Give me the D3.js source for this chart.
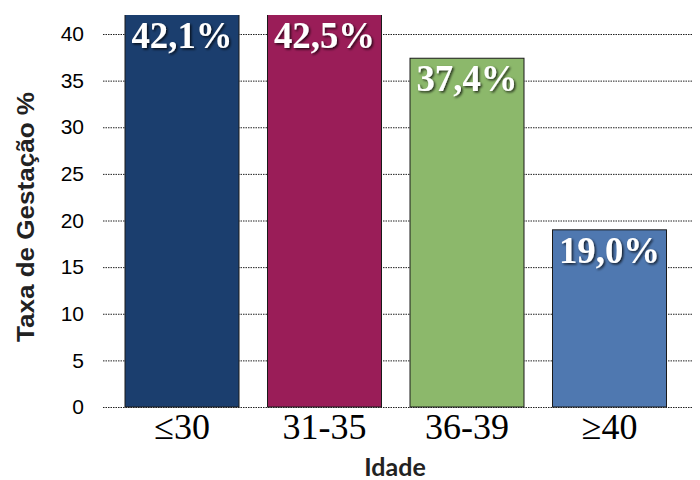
<!DOCTYPE html>
<html><head><meta charset="utf-8">
<script src="https://cdn.jsdelivr.net/npm/d3@7"></script>
<style>body{margin:0;background:#fff}</style>
</head><body>
<svg id="c" width="700" height="480"></svg>
<script>
const categories = ["≤30", "31-35", "36-39", "≥40"];
const values = [42.1, 42.5, 37.4, 19.0];
const labels = ["42,1%", "42,5%", "37,4%", "19,0%"];
const colors = ["#1b3e6e", "#9a1d58", "#8cb86b", "#4f78b0"];
const yTicks = [0, 5, 10, 15, 20, 25, 30, 35, 40];

const svg = d3.select("#c");
const x = d3.scaleBand().domain(categories).range([110.75, 680.75]).paddingInner(0.2).paddingOuter(0.1);
const y = d3.scaleLinear().domain([0, 40]).range([407, 34]);

const defs = svg.append("defs");
defs.append("clipPath").attr("id", "clip").append("rect").attr("x", 0).attr("y", 15).attr("width", 700).attr("height", 400);
const f = defs.append("filter").attr("id", "sh").attr("x", "-20%").attr("y", "-20%").attr("width", "140%").attr("height", "140%");
f.append("feDropShadow").attr("dx", 1.5).attr("dy", 1.5).attr("stdDeviation", 0.8).attr("flood-color", "#000").attr("flood-opacity", 0.75);

// gridlines
const yAxis = d3.axisLeft(y).tickValues(yTicks).tickSize(-590).tickPadding(18);
const gy = svg.append("g").attr("transform", "translate(103,0)").call(yAxis);
gy.select(".domain").remove();
gy.selectAll(".tick line").attr("stroke", "#222").attr("stroke-dasharray", "1.5,1").attr("stroke-width", 1);
gy.selectAll(".tick text").attr("font-family", "Liberation Sans, Arial, sans-serif").attr("font-size", 21).attr("fill", "#000").attr("x", -19);

// bars
svg.append("g").attr("clip-path", "url(#clip)").selectAll("rect").data(values).join("rect")
  .attr("x", (d, i) => x(categories[i]))
  .attr("width", x.bandwidth())
  .attr("y", d => y(d))
  .attr("height", d => y(0) - y(d))
  .attr("fill", (d, i) => colors[i])
  .attr("stroke", "#1a1a1a").attr("stroke-width", 1);

// value labels
svg.append("g").selectAll("text").data(values).join("text")
  .attr("x", (d, i) => x(categories[i]) + x.bandwidth() / 2)
  .attr("y", d => Math.max(y(d), 15) + 33)
  .attr("text-anchor", "middle")
  .attr("font-family", "Liberation Serif, serif").attr("font-weight", "bold")
  .attr("font-size", 38).attr("fill", "#fff")
  .attr("textLength", 101).attr("lengthAdjust", "spacingAndGlyphs")
  .attr("filter", "url(#sh)")
  .text((d, i) => labels[i]);

// x axis labels
const xAxis = d3.axisBottom(x).tickSize(0).tickPadding(0);
const gx = svg.append("g").attr("transform", "translate(0,407)").call(xAxis);
gx.select(".domain").remove();
gx.selectAll(".tick text").attr("font-family", "Liberation Serif, Times New Roman, serif")
  .attr("font-size", 36).attr("fill", "#000").attr("dy", 0).attr("y", 32);

// titles
svg.append("text").attr("x", 395).attr("y", 476).attr("text-anchor", "middle")
  .attr("font-family", "Lato, sans-serif").attr("font-weight", "bold").attr("font-size", 25).attr("fill", "#222").text("Idade");
svg.append("text").attr("transform", "translate(34,217) rotate(-90)").attr("text-anchor", "middle")
  .attr("font-family", "Liberation Sans, Arial, sans-serif").attr("font-weight", "bold").attr("font-size", 24).attr("fill", "#222")
  .attr("textLength", 250).attr("lengthAdjust", "spacingAndGlyphs").text("Taxa de Gestação %");
</script>
</body></html>
